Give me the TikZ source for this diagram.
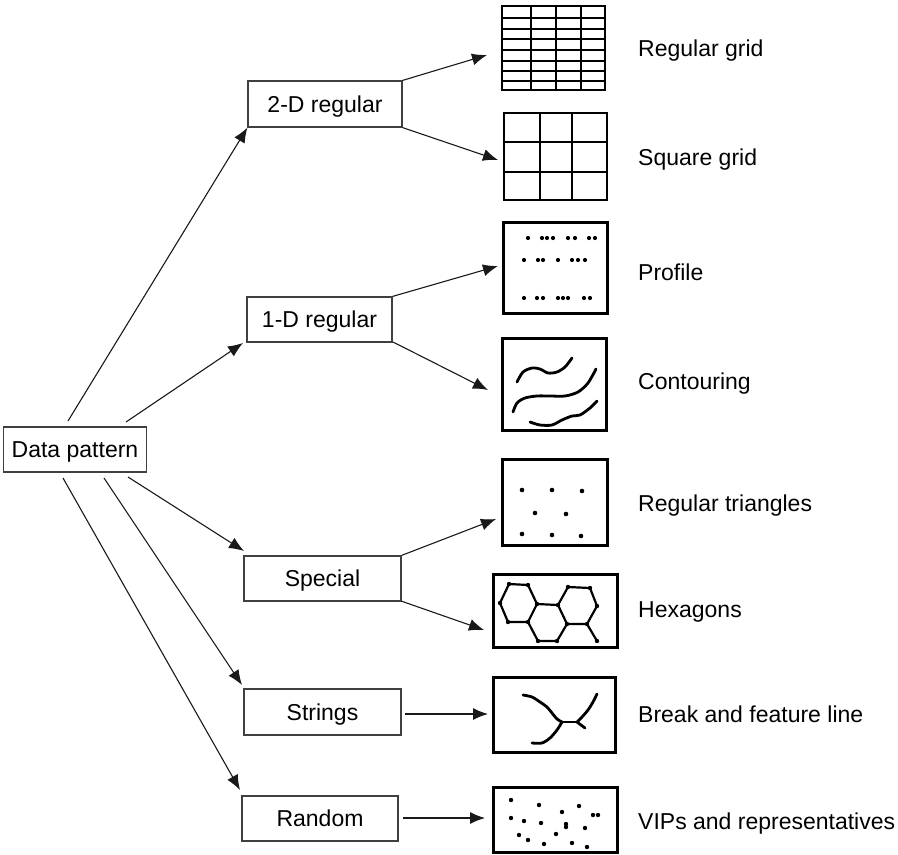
\documentclass[tikz,border=0pt]{standalone}
\usepackage{fontspec}
\setmainfont{Liberation Sans}
\usetikzlibrary{arrows.meta,calc}
\begin{document}
\begin{tikzpicture}[x=1pt,y=-1pt,
  catbox/.style={draw=black!75, line width=1.2pt, minimum height=45pt, inner sep=0pt,
    font=\fontsize{23}{27}\selectfont, text height=19pt, text depth=2.4pt},
  lbl/.style={anchor=west, inner sep=0pt, font=\fontsize{23}{27}\selectfont,
    text height=19.5pt, text depth=2.4pt},
  conn/.style={draw=black!90, line width=1.1pt, -{Latex[length=15pt,width=12pt]}},
  frame/.style={draw=black, line width=3pt},
  gline/.style={draw=black, line width=2.9pt},
  curve/.style={draw=black, line width=2.8pt, line cap=round, line join=round},
  thin/.style={draw=black, line width=2.2pt, line join=round},
]
\useasboundingbox (0,0) rectangle (898,855);

% ---------- category nodes ----------
\node[catbox, minimum width=143pt] (dp) at (75,449.5) {Data pattern};
\node[catbox, minimum width=154pt, minimum height=46pt] (two) at (325,104) {2-D regular};
\node[catbox, minimum width=145pt] (one) at (319.5,319.5) {1-D regular};
\node[catbox, minimum width=157pt] (spec) at (322.5,578.5) {Special};
\node[catbox, minimum width=157pt, minimum height=46pt] (str) at (322.5,712) {Strings};
\node[catbox, minimum width=156pt] (rnd) at (320,818.5) {Random};

% ---------- labels ----------
\node[lbl] (l1) at (638,48) {Regular grid};
\node[lbl] (l2) at (638,157) {Square grid};
\node[lbl] (l3) at (638,272) {Profile};
\node[lbl] (l4) at (638,381) {Contouring};
\node[lbl] (l5) at (638,503) {Regular triangles};
\node[lbl] (l6) at (638,609) {Hexagons};
\node[lbl] (l7) at (638,714) {Break and feature line};
\node[lbl] (l8) at (638,821) {VIPs and representatives};

% ---------- connector coordinates ----------
\coordinate (s1) at (68,421);
\coordinate (s2) at (126,422);
\coordinate (s3) at (128,477);
\coordinate (s4) at (104,478);
\coordinate (s5) at (63,478);
\coordinate (e2) at (243,343);
\coordinate (e3) at (244,551);
\coordinate (e4) at (242,685);
\coordinate (e5) at (240,790);

\coordinate (t1) at (487,55);
\coordinate (t2) at (498,160);
\coordinate (t3) at (498,266);
\coordinate (t4) at (488,390);
\coordinate (t5) at (496,519);
\coordinate (t6) at (484,630);
\coordinate (t7) at (488,714);
\coordinate (t8) at (485,818);
\coordinate (u4) at (393,342);
\coordinate (u6) at (401,601);
\coordinate (u7) at (405,714);
\coordinate (u8) at (403,818);

\draw[conn] (s1) -- (two.south west);
\draw[conn] (s2) -- (e2);
\draw[conn] (s3) -- (e3);
\draw[conn] (s4) -- (e4);
\draw[conn] (s5) -- (e5);

\draw[conn] (two.north east) -- (t1);
\draw[conn] (two.south east) -- (t2);
\draw[conn] (one.north east) -- (t3);
\draw[conn] (u4) -- (t4);
\draw[conn] (spec.north east) -- (t5);
\draw[conn] (u6) -- (t6);
\draw[conn] (u7) -- (t7);
\draw[conn] (u8) -- (t8);

% ---------- Regular grid ----------
\draw[gline] (502,6) rectangle (605,90);
\foreach \xx in {531,556,581} \draw[gline] (\xx,6) -- (\xx,90);
\foreach \yy in {18,29,39,50,61,71,81} \draw[gline] (502,\yy) -- (605,\yy);

% ---------- Square grid ----------
\draw[gline] (504,113) rectangle (607,200);
\foreach \xx in {540,572} \draw[gline] (\xx,113) -- (\xx,200);
\foreach \yy in {142,172} \draw[gline] (504,\yy) -- (607,\yy);

% ---------- Profile ----------
\draw[frame] (503,222) rectangle (607,313);
\foreach \xx in {528,542,547,553,568,575,589,595} \fill (\xx,238) circle (2.1pt);
\foreach \xx in {524,538,543,558,572,578,585} \fill (\xx,260) circle (2.1pt);
\foreach \xx in {524,537,543,558,563,568,584,590} \fill (\xx,298) circle (2.1pt);

% ---------- Contouring ----------
\draw[frame] (502,338) rectangle (606,430);
\draw[curve] plot[smooth] coordinates {(517,382) (523,372) (532,368) (540,369) (548,373) (557,372) (565,367) (572,358)};
\draw[curve] plot[smooth] coordinates {(513,412) (517,403) (525,398) (537,396) (550,396) (565,396) (578,392) (588,383) (596,369)};
\draw[curve] plot[smooth] coordinates {(530,422) (540,425) (552,425) (562,420) (572,416) (580,415) (590,408) (597,401)};

% ---------- Regular triangles ----------
\draw[frame] (502,459) rectangle (607,545);
\foreach \p in {(522,490),(552,490),(582,491),(535,513),(566,514),(522,534),(552,535),(581,536)}
  \fill \p circle (2.3pt);

% ---------- Hexagons ----------
\draw[frame] (493,574) rectangle (617,647);
\draw[thin] (509,584) -- (528,585) -- (537,604) -- (528,622) -- (508,622) -- (500,603) -- cycle;
\draw[thin] (537,604) -- (558,605) -- (567,624) -- (557,641) -- (538,641) -- (528,622);
\draw[thin] (558,605) -- (568,587) -- (590,588) -- (597,606) -- (587,624) -- (567,624);
\draw[thin] (587,624) -- (597,641);
\foreach \p in {(509,584),(528,585),(537,604),(528,622),(508,622),(500,603),(558,605),(567,624),(557,641),(538,641),(568,587),(590,588),(597,606),(587,624),(597,641)}
  \fill \p circle (2.2pt);

% ---------- Break and feature line ----------
\draw[frame] (493,677) rectangle (615,752);
\draw[curve] plot[smooth] coordinates {(523,695) (532,697) (540,702) (547,707) (552,713) (557,719) (562,722)};
\draw[curve] (562,722) -- (577,722);
\draw[curve] plot[smooth] coordinates {(577,722) (582,717) (588,710) (593,702) (597,694)};
\draw[curve] (577,722) -- (585,728);
\draw[curve] plot[smooth] coordinates {(562,722) (557,730) (550,738) (542,743) (532,743)};

% ---------- Random ----------
\draw[frame] (493,787) rectangle (617,852);
\foreach \p in {(511,800),(539,805),(579,806),(562,812),(593,815),(598,815),(511,818),(524,821),(541,823),(566,824),(566,827),(585,828),(519,835),(528,840),(556,834),(544,844),(572,843),(587,847)}
  \fill \p circle (2.2pt);
\end{tikzpicture}
\end{document}
